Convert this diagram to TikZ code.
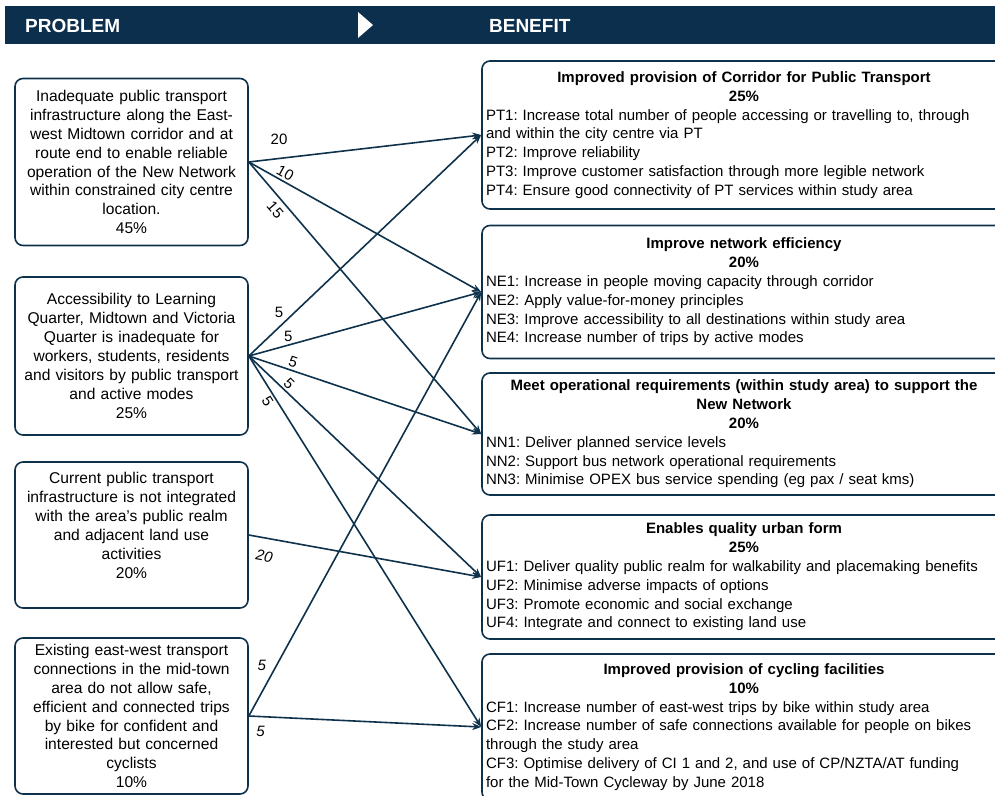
\documentclass[tikz,border=0pt]{standalone}
\usepackage{fontspec}
\setmainfont{Liberation Sans}
\usepackage{tikz}
\usetikzlibrary{arrows.meta}
\usepackage{xcolor}
\definecolor{hdnavy}{RGB}{12,47,77}
\definecolor{linenavy}{RGB}{15,50,76}
\newcommand{\benhead}[1]{\makebox[\hsize][c]{\bfseries #1}}
\frenchspacing

\begin{document}
\begin{tikzpicture}[x=1pt, y=-1pt, line width=1.6pt]
\useasboundingbox (0,0) rectangle (995,795);
\tikzstyle{every node} = [font=\fontsize{15}{18.8}\selectfont]
\tikzstyle{problem} = [draw=linenavy, rounded corners=8pt, minimum width=233pt, text width=227pt, align=center, inner sep=3pt, font=\fontsize{15.6}{18.9}\selectfont]
\tikzstyle{benefit} = [draw=linenavy, rounded corners=8pt, minimum width=524pt, text width=516pt, align=left, inner sep=4pt]
\tikzstyle{link} = [draw=linenavy, -{Stealth[length=9pt, width=7pt]}]
\tikzstyle{weight} = [inner sep=2pt]
\tikzstyle{slantweight} = [inner sep=2pt, font=\fontsize{15}{18.8}\selectfont\itshape]
\tikzstyle{heading} = [anchor=west, text=white, font=\bfseries\fontsize{19}{22}\selectfont]
% header bar
\fill[hdnavy] (5,6) rectangle (995,44);
\fill[white] (358,12) -- (373,25) -- (358,38) -- cycle;
\node[heading] (hprob) at (21,26) {PROBLEM};
\node[heading] (hben) at (485,26) {BENEFIT};
% problems
\node[problem, minimum height=167pt] (ptinfra) at (131.5,162) {Inadequate public transport\\infrastructure along the East-\\west Midtown corridor and at\\route end to enable reliable\\operation of the New Network\\within constrained city centre\\location.\\45\%};
\node[problem, minimum height=158pt] (access) at (131.5,356) {Accessibility to Learning\\Quarter, Midtown and Victoria\\Quarter is inadequate for\\workers, students, residents\\and visitors by public transport\\and active modes\\25\%};
\node[problem, minimum height=146pt] (realm) at (131.5,535) {Current public transport\\infrastructure is not integrated\\with the area's public realm\\and adjacent land use\\activities\\20\%\\~};
\node[problem, minimum height=156pt] (bikelink) at (131.5,716) {Existing east-west transport\\connections in the mid-town\\area do not allow safe,\\efficient and connected trips\\by bike for confident and\\interested but concerned\\cyclists\\10\%};
% benefits
\node[benefit, minimum height=148pt] (corridor) at (744,135) {\benhead{Improved provision of Corridor for Public Transport}\\\benhead{25\%}\\PT1: Increase total number of people accessing or travelling to, through\\and within the city centre via PT\\PT2: Improve reliability\\PT3: Improve customer satisfaction through more legible network\\PT4: Ensure good connectivity of PT services within study area};
\node[benefit, minimum height=133pt] (efficiency) at (744,292) {\benhead{Improve network efficiency}\\\benhead{20\%}\\NE1: Increase in people moving capacity through corridor\\NE2: Apply value-for-money principles\\NE3: Improve accessibility to all destinations within study area\\NE4: Increase number of trips by active modes};
\node[benefit, minimum height=122pt] (operation) at (744,434) {\benhead{Meet operational requirements (within study area) to support the}\\\benhead{New Network}\\\benhead{20\%}\\NN1: Deliver planned service levels\\NN2: Support bus network operational requirements\\NN3: Minimise OPEX bus service spending (eg pax / seat kms)};
\node[benefit, minimum height=124pt] (urban) at (744,577) {\benhead{Enables quality urban form}\\\benhead{25\%}\\UF1: Deliver quality public realm for walkability and placemaking benefits\\UF2: Minimise adverse impacts of options\\UF3: Promote economic and social exchange\\UF4: Integrate and connect to existing land use};
\node[benefit, minimum height=146pt] (cycling) at (744,727) {\benhead{Improved provision of cycling facilities}\\\benhead{10\%}\\CF1: Increase number of east-west trips by bike within study area\\CF2: Increase number of safe connections available for people on bikes\\through the study area\\CF3: Optimise delivery of CI 1 and 2, and use of CP/NZTA/AT funding\\for the Mid-Town Cycleway by June 2018};
% links
\draw[link] (ptinfra.east) -- node[weight, pos=.13, above=11pt] {20} (corridor.west);
\draw[link] (ptinfra.east) -- node[weight, pos=.14, sloped, above] {10} (efficiency.west);
\draw[link] (ptinfra.east) -- node[weight, pos=.15, sloped, below=3pt] {15} (operation.west);
\draw[link] (access.east) -- node[weight, pos=.16, above left] {5} (corridor.west);
\draw[link] (access.east) -- node[weight, pos=.17, above=1pt] {5} (efficiency.west);
\draw[link] (access.east) -- node[weight, pos=.18, sloped, above] {5} (operation.west);
\draw[link] (access.east) -- node[weight, pos=.15, sloped, above] {5} (urban.west);
\draw[link] (access.east) -- node[weight, pos=.11, sloped, below] {5} (cycling.west);
\draw[link] (realm.east) -- node[slantweight, pos=.08, sloped, below=10pt] {20} (urban.west);
\draw[link] (bikelink.east) -- node[slantweight, pos=.12, left=8pt] {5} (efficiency.west);
\draw[link] (bikelink.east) -- node[slantweight, pos=.05, below=7pt] {5} (cycling.west);
\end{tikzpicture}
\end{document}
